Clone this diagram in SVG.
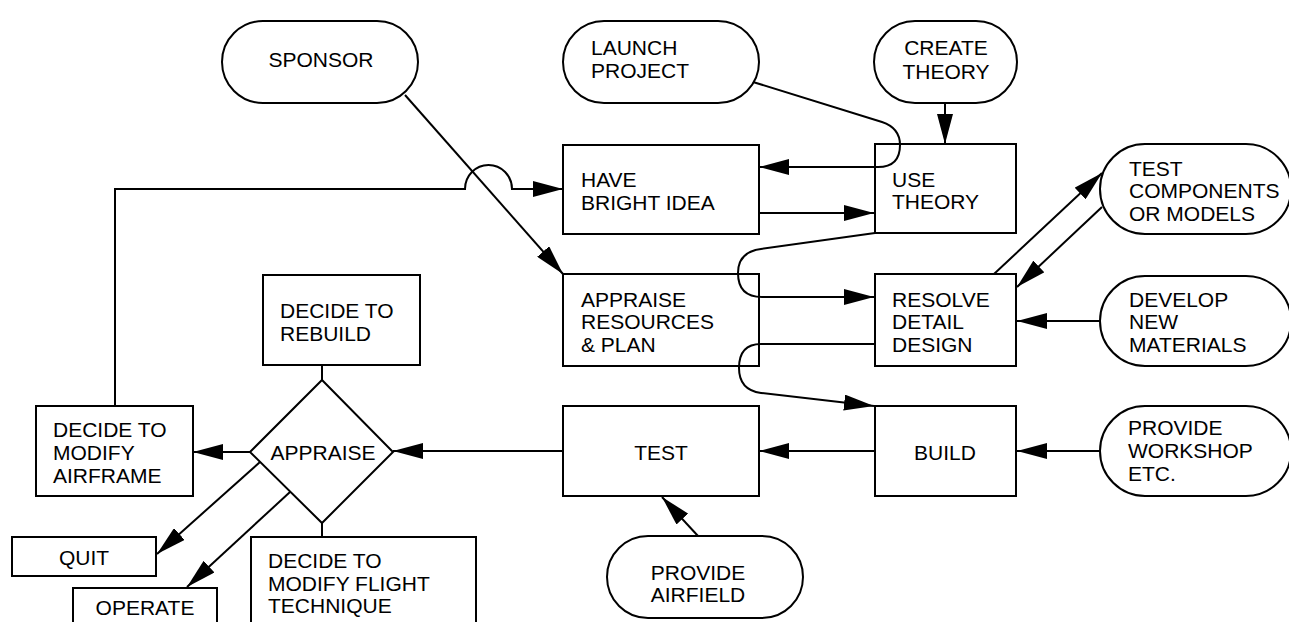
<svg xmlns="http://www.w3.org/2000/svg" width="1289" height="622" viewBox="0 0 1289 622">
<style>
.s{fill:#fff;stroke:#000;stroke-width:2}
.c{fill:none;stroke:#000;stroke-width:2}
.a{marker-end:url(#ah)}
text{font-family:"Liberation Sans",Arial,sans-serif;font-size:21px;fill:#000}
.m{text-anchor:middle}
</style>
<defs>
<marker id="ah" markerWidth="30" markerHeight="16" refX="30" refY="8" orient="auto" markerUnits="userSpaceOnUse"><path d="M0,0 L30,8 L0,16 z" fill="#000"/></marker>
</defs>
<rect width="1289" height="622" fill="#fff"/>
<g id="sponsor"><rect class="s" x="222" y="21" width="196" height="82" rx="41"/><text class="m" x="321" y="67">SPONSOR</text></g>
<g id="launch-project"><rect class="s" x="563" y="21" width="196" height="82" rx="41"/><text x="591" y="55">LAUNCH</text><text x="591" y="78">PROJECT</text></g>
<g id="create-theory"><rect class="s" x="874" y="21" width="143" height="82" rx="41"/><text class="m" x="946" y="55">CREATE</text><text class="m" x="946" y="79">THEORY</text></g>
<g id="have-bright-idea"><rect class="s" x="563" y="145" width="196" height="89"/><text x="581" y="187">HAVE</text><text x="581" y="210">BRIGHT IDEA</text></g>
<g id="use-theory"><rect class="s" x="875" y="144" width="141" height="89"/><text x="892" y="187">USE</text><text x="892" y="209">THEORY</text></g>
<g id="test-components"><rect class="s" x="1100" y="144" width="191" height="90" rx="45"/><text x="1129" y="176">TEST</text><text x="1129" y="198">COMPONENTS</text><text x="1129" y="221">OR MODELS</text></g>
<g id="appraise-resources"><rect class="s" x="563" y="274" width="196" height="92"/><text x="581" y="307">APPRAISE</text><text x="581" y="329">RESOURCES</text><text x="581" y="352">&amp; PLAN</text></g>
<g id="resolve-detail-design"><rect class="s" x="875" y="274" width="141" height="92"/><text x="892" y="307">RESOLVE</text><text x="892" y="329">DETAIL</text><text x="892" y="352">DESIGN</text></g>
<g id="develop-new-materials"><rect class="s" x="1100" y="276" width="191" height="90" rx="45"/><text x="1129" y="307">DEVELOP</text><text x="1129" y="329">NEW</text><text x="1129" y="352">MATERIALS</text></g>
<g id="decide-rebuild"><rect class="s" x="263" y="275" width="157" height="90"/><text x="280" y="318">DECIDE TO</text><text x="280" y="341">REBUILD</text></g>
<g id="appraise"><path class="s" d="M322,380 L393,452 L322,523 L250,452 Z"/><text class="m" x="323" y="460">APPRAISE</text></g>
<g id="decide-modify-airframe"><rect class="s" x="36" y="406" width="157" height="90"/><text x="53" y="437">DECIDE TO</text><text x="53" y="460">MODIFY</text><text x="53" y="483">AIRFRAME</text></g>
<g id="test"><rect class="s" x="563" y="406" width="196" height="90"/><text class="m" x="661" y="460">TEST</text></g>
<g id="build"><rect class="s" x="875" y="406" width="141" height="90"/><text class="m" x="945" y="460">BUILD</text></g>
<g id="provide-workshop"><rect class="s" x="1100" y="406" width="191" height="90" rx="45"/><text x="1128" y="435">PROVIDE</text><text x="1128" y="458">WORKSHOP</text><text x="1128" y="481">ETC.</text></g>
<g id="quit"><rect class="s" x="12" y="537" width="144" height="39"/><text class="m" x="84" y="565">QUIT</text></g>
<g id="operate"><rect class="s" x="73" y="588" width="144" height="42"/><text class="m" x="145" y="615">OPERATE</text></g>
<g id="decide-modify-flight"><rect class="s" x="251" y="537" width="225" height="95"/><text x="268" y="568">DECIDE TO</text><text x="268" y="591">MODIFY FLIGHT</text><text x="268" y="613">TECHNIQUE</text></g>
<g id="provide-airfield"><rect class="s" x="607" y="536" width="196" height="82" rx="41"/><text class="m" x="698" y="580">PROVIDE</text><text class="m" x="698" y="602">AIRFIELD</text></g>
<g id="connectors">
<path class="c a" d="M405,95 L563,274"/>
<path class="c a" d="M753,82 L882,122 Q900,128 900,145 Q900,167 878,167 L759,167"/>
<path class="c a" d="M945,103 L945,144"/>
<path class="c a" d="M759,213 L874,213"/>
<path class="c a" d="M115,406 L115,189 L465,189 A23.5,24 0 0 1 512,189 L563,189"/>
<path class="c a" d="M875,233 L761,249 Q738,252 738,273 Q738,297 762,297 L874,297"/>
<path class="c a" d="M875,344 L761,344 Q739,344 739,368 Q739,390 761,393 L874,406"/>
<path class="c a" d="M994,274 L1102,173"/>
<path class="c a" d="M1102,207 L1017,287"/>
<path class="c a" d="M1100,321 L1017,321"/>
<path class="c a" d="M1100,451 L1017,451"/>
<path class="c a" d="M875,451 L759,451"/>
<path class="c a" d="M563,451 L393,451"/>
<path class="c a" d="M698,536 L662,497"/>
<path class="c a" d="M250,452 L193,452"/>
<path class="c a" d="M260,462 L157,554"/>
<path class="c a" d="M290,492 L187,587"/>
<path class="c" d="M322,365 L322,380"/>
<path class="c" d="M322,523 L322,537"/>
</g>
</svg>
